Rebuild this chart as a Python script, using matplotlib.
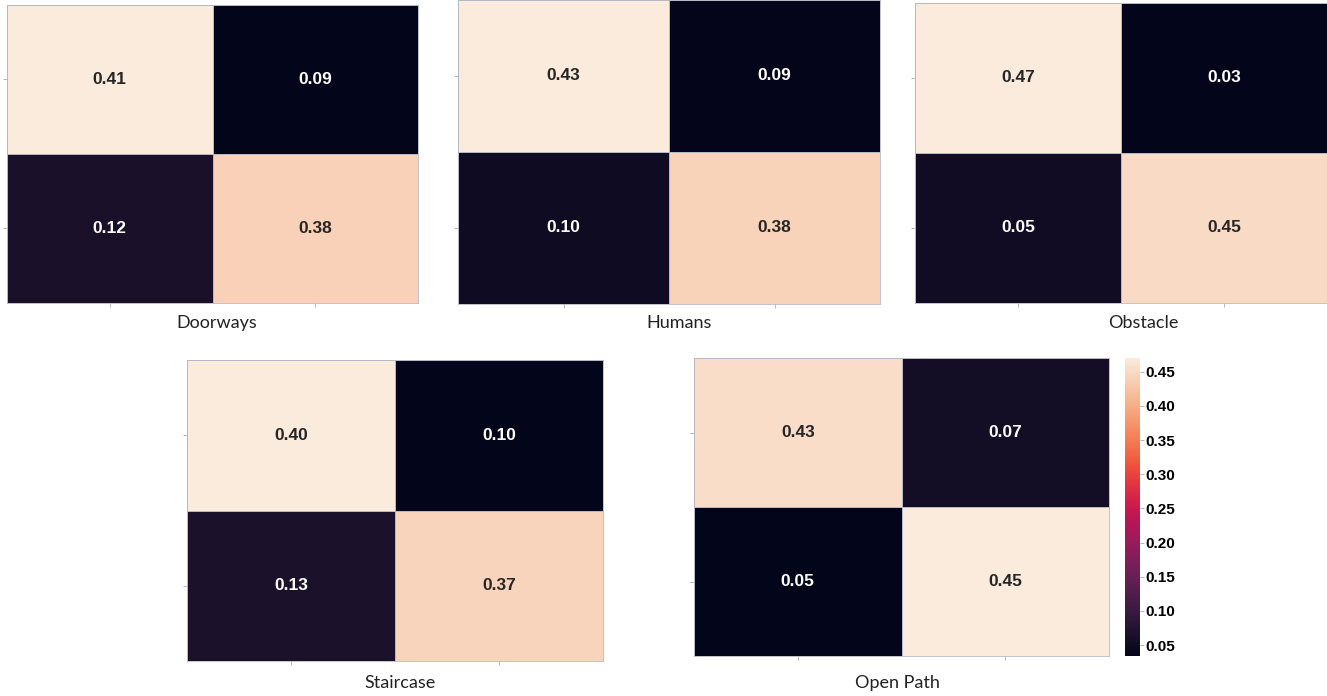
import matplotlib
matplotlib.use("Agg")
import matplotlib.pyplot as plt
from matplotlib.cm import ScalarMappable
from matplotlib.colors import Normalize
import numpy as np
import seaborn as sns

# confusion matrices (normalised) per scene type
names = ["Doorways", "Humans", "Obstacle", "Staircase", "Open Path"]
doorways = [[0.41, 0.09], [0.12, 0.38]]
humans = [[0.43, 0.09], [0.10, 0.38]]
obstacle = [[0.47, 0.03], [0.05, 0.45]]
staircase = [[0.40, 0.10], [0.13, 0.37]]
open_path = [[0.43, 0.07], [0.05, 0.45]]
matrices = [doorways, humans, obstacle, staircase, open_path]

# colour limits of each heatmap, and of the shared colour bar
color_ranges = [(0.099, 0.40), (0.088, 0.40), (0.03, 0.47), (0.11, 0.387), (0.05, 0.445)]
cbar_range = (0.034, 0.47)
cbar_ticks = [0.05, 0.10, 0.15, 0.20, 0.25, 0.30, 0.35, 0.40, 0.45]

W, H = 1327, 696

# panel boxes in pixels (left, top, right, bottom) and label centres
boxes = [(7, 5, 418, 303), (458, 0, 880, 304), (915, 3, 1327, 303),
         (187, 360, 603, 661), (694, 358, 1109, 656)]
label_xy = [(217, 323), (679, 323), (1143, 323), (400, 683), (897, 683)]


def box(l, t, r, b):
    return [l / W, 1 - b / H, (r - l) / W, (b - t) / H]


fig = plt.figure(figsize=(W / 100, H / 100), dpi=100)
annot_kws = {"fontsize": 12.5, "fontweight": "bold", "family": "Liberation Sans"}

for name, cm, (vmin, vmax), rect, (lx, ly) in zip(names, matrices, color_ranges,
                                                  boxes, label_xy):
    ax = fig.add_axes(box(*rect))
    sns.heatmap(np.array(cm), ax=ax, cmap="rocket", vmin=vmin, vmax=vmax,
                annot=True, fmt=".2f", annot_kws=annot_kws, cbar=False,
                linewidths=0.4, linecolor="#b8b8c4",
                xticklabels=False, yticklabels=False)
    ax.set_xticks([0.5, 1.5])
    ax.set_yticks([0.5, 1.5])
    ax.set_xticklabels([])
    ax.set_yticklabels([])
    ax.tick_params(length=3, width=0.6, color="#aaaaaa")
    for s in ax.spines.values():
        s.set_visible(True)
        s.set_color("#b8b8c4")
        s.set_linewidth(0.6)
    fig.text(lx / W, 1 - ly / H, name, family="Lato", fontsize=13,
             color="#222222", ha="center", va="center")

# colour bar next to the last panel
cax = fig.add_axes(box(1125, 358, 1140, 656))
sm = ScalarMappable(norm=Normalize(*cbar_range), cmap="rocket")
cb = fig.colorbar(sm, cax=cax, ticks=cbar_ticks)
cb.outline.set_visible(False)
cb.ax.tick_params(length=3, width=0.6, color="#aaaaaa", pad=1)
cb.ax.set_yticklabels([f"{t:.2f}" for t in cbar_ticks], fontweight="bold",
                      fontsize=11, family="Liberation Sans")

fig.savefig("out.png", dpi=100)
